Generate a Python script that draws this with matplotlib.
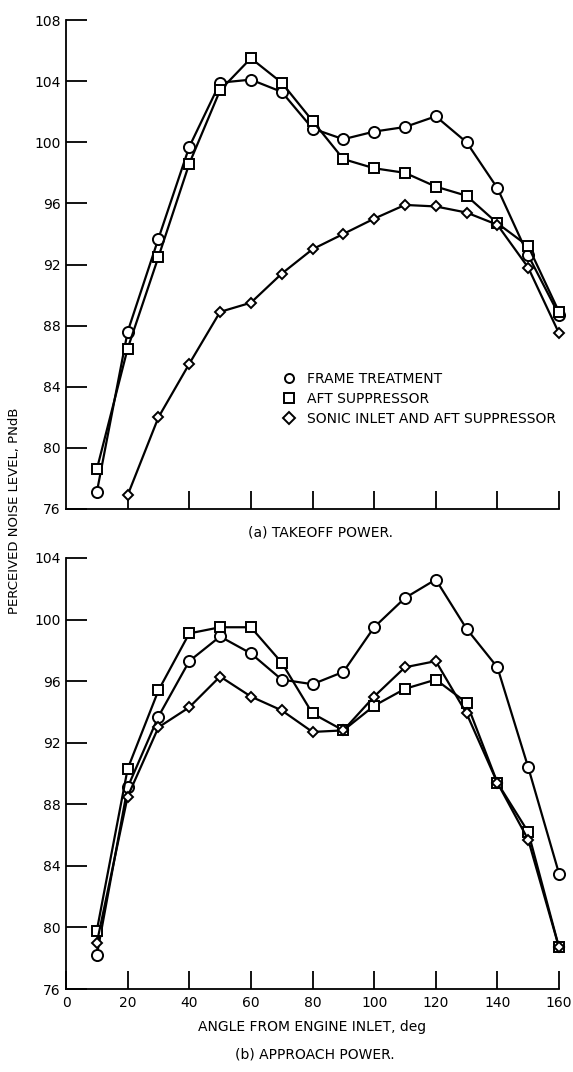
import numpy as np
import matplotlib.pyplot as plt

plt.rcParams['font.family'] = ['Liberation Sans Narrow', 'DejaVu Sans']

angle = np.arange(10, 170, 10)

# (a) takeoff power, PNdB
takeoff_frame = [77.1, 87.6, 93.7, 99.7, 103.9, 104.1, 103.3, 100.9, 100.2,
                 100.7, 101.0, 101.7, 100.0, 97.0, 92.6, 88.7]
takeoff_aft = [78.6, 86.5, 92.5, 98.6, 103.4, 105.5, 103.9, 101.4, 98.9,
               98.3, 98.0, 97.1, 96.5, 94.7, 93.2, 88.9]
angle_sonic_to = angle[1:]
takeoff_sonic = [76.9, 82.0, 85.5, 88.9, 89.5, 91.4, 93.0, 94.0, 95.0,
                 95.9, 95.8, 95.4, 94.6, 91.8, 87.5]

# (b) approach power, PNdB
approach_frame = [78.2, 89.1, 93.7, 97.3, 98.9, 97.8, 96.1, 95.8, 96.6,
                  99.5, 101.4, 102.6, 99.4, 96.9, 90.4, 83.5]
approach_aft = [79.8, 90.3, 95.4, 99.1, 99.5, 99.5, 97.2, 93.9, 92.8,
                94.4, 95.5, 96.1, 94.6, 89.4, 86.2, 78.7]
approach_sonic = [79.0, 88.5, 93.0, 94.3, 96.3, 95.0, 94.1, 92.7, 92.8,
                  95.0, 96.9, 97.3, 93.9, 89.4, 85.7, 78.7]

labels = ['FRAME TREATMENT', 'AFT SUPPRESSOR', 'SONIC INLET AND AFT SUPPRESSOR']

fig = plt.figure(figsize=(5.73, 10.72), dpi=100)
ax1 = fig.add_axes([0.1152, 0.5252, 0.8604, 0.4561])
ax2 = fig.add_axes([0.1152, 0.0774, 0.8604, 0.4021])

mk = dict(color='black', lw=1.6, mfc='white', mec='black', mew=1.4,
          clip_on=False)


def style(ax, ylo, yhi):
    ax.set_xlim(0, 160)
    ax.set_ylim(ylo, yhi)
    for s in ['top', 'right']:
        ax.spines[s].set_visible(False)
    for s in ['left', 'bottom']:
        ax.spines[s].set_linewidth(1.3)
    ax.set_xticks(np.arange(20, 161, 20))
    ax.set_yticks(np.arange(ylo, yhi + 1, 4))
    ax.tick_params(axis='y', direction='in', length=15, width=1.3,
                   labelsize=10, pad=4)
    ax.tick_params(axis='x', direction='in', length=13, width=1.3,
                   labelsize=10, pad=5)


h1, = ax1.plot(angle, takeoff_frame, marker='o', ms=8, **mk)
h2, = ax1.plot(angle, takeoff_aft, marker='s', ms=7.5, **mk)
h3, = ax1.plot(angle_sonic_to, takeoff_sonic, marker='D', ms=5.5, **mk)
style(ax1, 76, 108)
ax1.set_xticklabels([])
ax1.legend([h1, h2, h3], labels, loc='upper left',
           bbox_to_anchor=(0.43, 0.295), frameon=False, fontsize=10,
           handlelength=0.6, handletextpad=1.0, labelspacing=0.45,
           borderpad=0)
for h in ax1.get_legend().legend_handles:
    h.set_linestyle('none')
    h.set_markersize(6.5)

ax2.plot(angle, approach_frame, marker='o', ms=8, **mk)
ax2.plot(angle, approach_aft, marker='s', ms=7.5, **mk)
ax2.plot(angle, approach_sonic, marker='D', ms=5.5, **mk)
style(ax2, 76, 104)
ax2.set_xticks(np.arange(0, 161, 20))
ax2.set_xticklabels([str(v) for v in range(0, 161, 20)])
ax2.set_xlabel('ANGLE FROM ENGINE INLET, deg', fontsize=10, labelpad=7)

fig.text(0.56, 0.503, '(a) TAKEOFF POWER.', ha='center', va='center',
         fontsize=10)
fig.text(0.55, 0.016, '(b) APPROACH POWER.', ha='center', va='center',
         fontsize=10)
fig.text(0.025, 0.524, 'PERCEIVED NOISE LEVEL, PNdB', rotation=90,
         ha='center', va='center', fontsize=9.5)

fig.savefig('out.png', dpi=100)
